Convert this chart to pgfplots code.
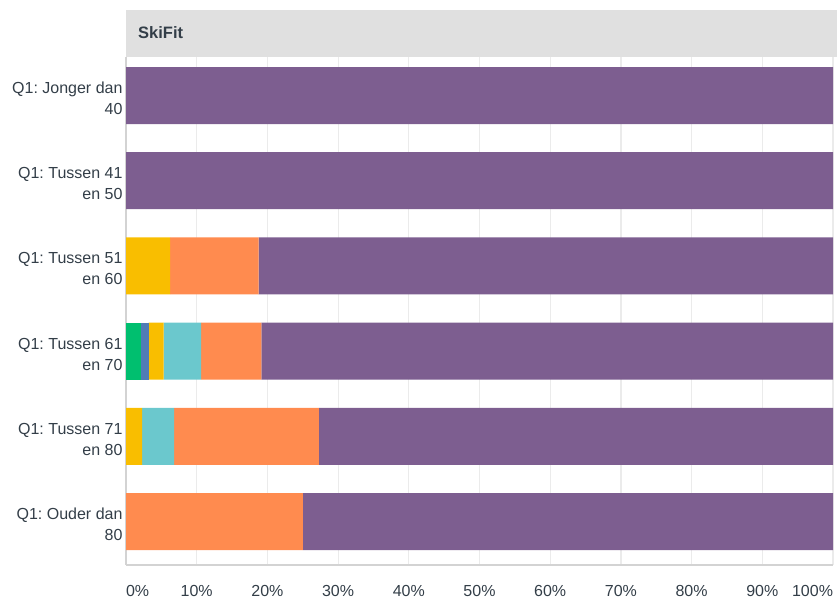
\documentclass[border=0pt]{standalone}
\usepackage{pgfplots}
\pgfplotsset{compat=1.18}
\usepackage{fontspec}
\setmainfont{Liberation Sans}
\frenchspacing
\definecolor{cgreen}{HTML}{00BF6F}
\definecolor{cblue}{HTML}{507CB6}
\definecolor{cyellow}{HTML}{F9BE00}
\definecolor{cteal}{HTML}{6BC8CD}
\definecolor{corange}{HTML}{FF8B4F}
\definecolor{cpurple}{HTML}{7D5E90}
\definecolor{headergray}{HTML}{E0E0E0}
\definecolor{labelgray}{HTML}{333E48}
\definecolor{gridgray}{HTML}{EBEBEB}
\definecolor{axisgray}{HTML}{D3D3D3}
\begin{document}
\begin{tikzpicture}[x=1pt,y=1pt]
\path[use as bounding box] (0,0) rectangle (837,-601);
\fill[headergray] (126,-10) rectangle (837,-57);
\node[anchor=west, inner sep=0pt, font=\fontsize{16.5}{19}\selectfont\bfseries, text=labelgray] at (138,-33) {SkiFit};
\begin{axis}[
  at={(126pt,-565pt)}, anchor=south west, scale only axis,
  width=707pt, height=508pt,
  xbar stacked, bar width=57pt, y dir=reverse,
  xmin=0, xmax=100, ymin=-0.452, ymax=5.51,
  axis lines*=left, axis line style={draw=axisgray, line width=1.5pt, -},
  xmajorgrids, grid style={gridgray, line width=1.2pt},
  major tick length=0pt,
  xtick={0,10,...,100},
  xticklabels={\makebox[0pt][l]{0\%},10\%,20\%,30\%,40\%,50\%,60\%,70\%,80\%,90\%,\makebox[0pt][r]{100\%}},
  xticklabel style={font=\fontsize{16}{19}\selectfont, text=labelgray, yshift=-17pt},
  ytick={0,...,5},
  yticklabels={{Q1: Jonger dan\\40},{Q1: Tussen 41\\en 50},{Q1: Tussen 51\\en 60},{Q1: Tussen 61\\en 70},{Q1: Tussen 71\\en 80},{Q1: Ouder dan\\80}},
  yticklabel style={align=right, font=\fontsize{16}{21}\selectfont, text=labelgray, yshift=-3pt},
  every axis plot/.append style={draw=none},
]
\addplot[fill=cgreen] coordinates {(0,0) (0,1) (0,2) (2.13,3) (0,4) (0,5)};
\addplot[fill=cblue] coordinates {(0,0) (0,1) (0,2) (1.06,3) (0,4) (0,5)};
\addplot[fill=cyellow] coordinates {(0,0) (0,1) (6.25,2) (2.13,3) (2.27,4) (0,5)};
\addplot[fill=cteal] coordinates {(0,0) (0,1) (0,2) (5.32,3) (4.55,4) (0,5)};
\addplot[fill=corange] coordinates {(0,0) (0,1) (12.5,2) (8.51,3) (20.45,4) (25,5)};
\addplot[fill=cpurple] coordinates {(100,0) (100,1) (81.25,2) (80.85,3) (72.73,4) (75,5)};
\end{axis}
\end{tikzpicture}
\end{document}
